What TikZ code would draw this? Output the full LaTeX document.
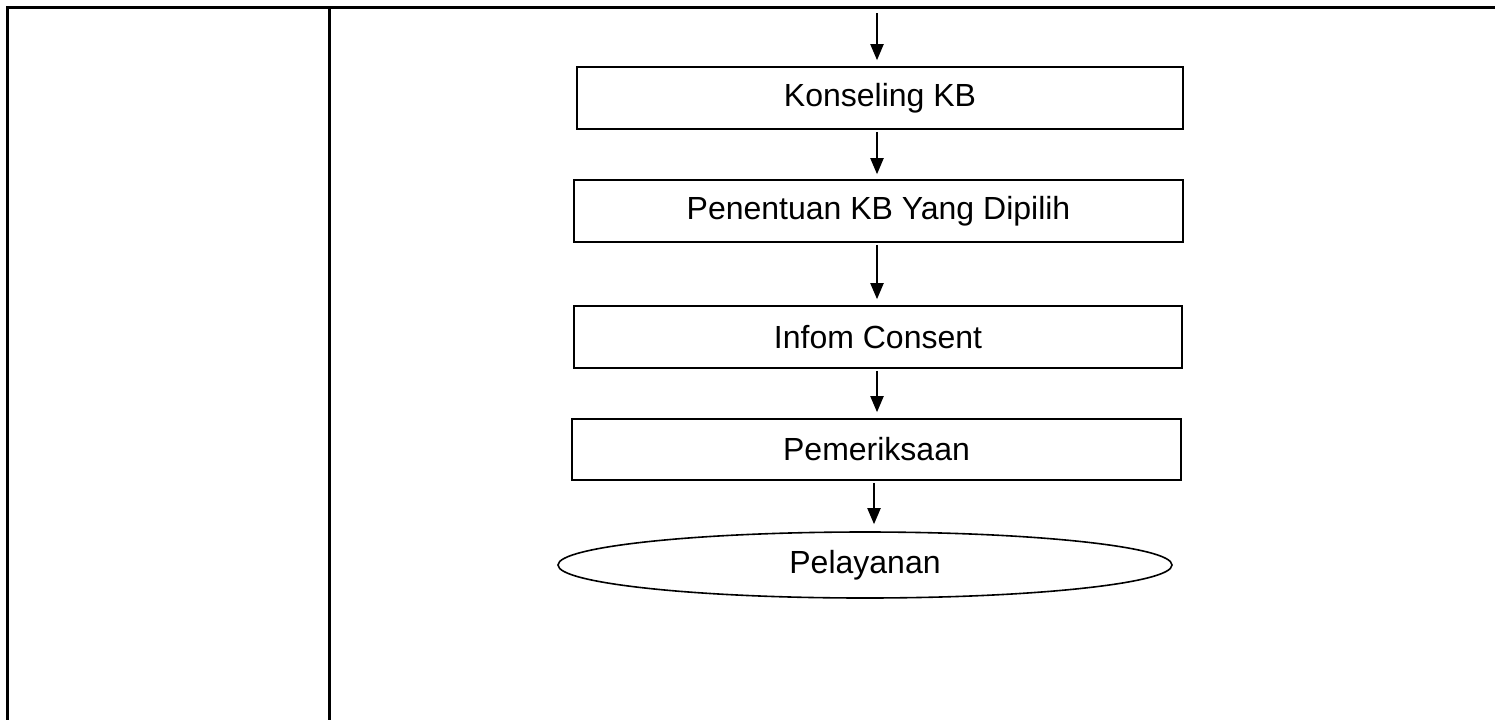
\documentclass[tikz,border=0pt]{standalone}
\usepackage{fontspec}
\setmainfont{Liberation Sans}
\usetikzlibrary{arrows.meta,shapes.geometric}
\begin{document}
\begin{tikzpicture}[x=1pt,y=-1pt,
  stepbox/.style={draw,line width=1.6pt,minimum height=62pt,inner sep=0pt,font=\fontsize{32}{36}\selectfont},
  endbox/.style={draw,ellipse,line width=1.6pt,minimum width=614pt,minimum height=66pt,inner sep=0pt,font=\fontsize{32}{36}\selectfont},
  arr/.style={line width=2pt,-{Triangle[length=16pt,width=13pt]}},
  frame/.style={line width=3pt}]
\useasboundingbox (0,0) rectangle (1495,720);
\coordinate (tr) at (1495,7.5);
\coordinate (bl) at (7.5,720);
\coordinate (mt) at (329,7.5);
\coordinate (mb) at (329,720);
\draw[frame] (tr) -- (7.5,7.5) -- (bl);
\draw[frame] (mt) -- (mb);
\node[stepbox,minimum width=606pt] (b1) at (880,98) {Konseling KB};
\node[stepbox,minimum width=609pt] (b2) at (878.5,211) {Penentuan KB Yang Dipilih};
\node[stepbox,minimum width=608pt] (b3) at (878,337) {Infom Consent};
\node[stepbox,minimum width=609pt,minimum height=61pt] (b4) at (876.5,449.5) {Pemeriksaan};
\node[endbox] (e) at (865,565) {Pelayanan};
\coordinate (start) at (877,13);
\coordinate (t1) at ([xshift=-3pt,yshift=6pt]b1.north);
\draw[arr] (start) -- (t1);
\draw[arr] ([xshift=-3pt,yshift=-2pt]b1.south) -- ([xshift=-1.5pt,yshift=5pt]b2.north);
\draw[arr] ([xshift=-1.5pt,yshift=-2pt]b2.south) -- ([xshift=-1pt,yshift=6pt]b3.north);
\draw[arr] ([xshift=-1pt,yshift=-2pt]b3.south) -- ([xshift=0.5pt,yshift=6pt]b4.north);
\draw[arr] ([xshift=-2.5pt,yshift=-2pt]b4.south) -- ([xshift=9pt,yshift=7pt]e.north);
\end{tikzpicture}
\end{document}
